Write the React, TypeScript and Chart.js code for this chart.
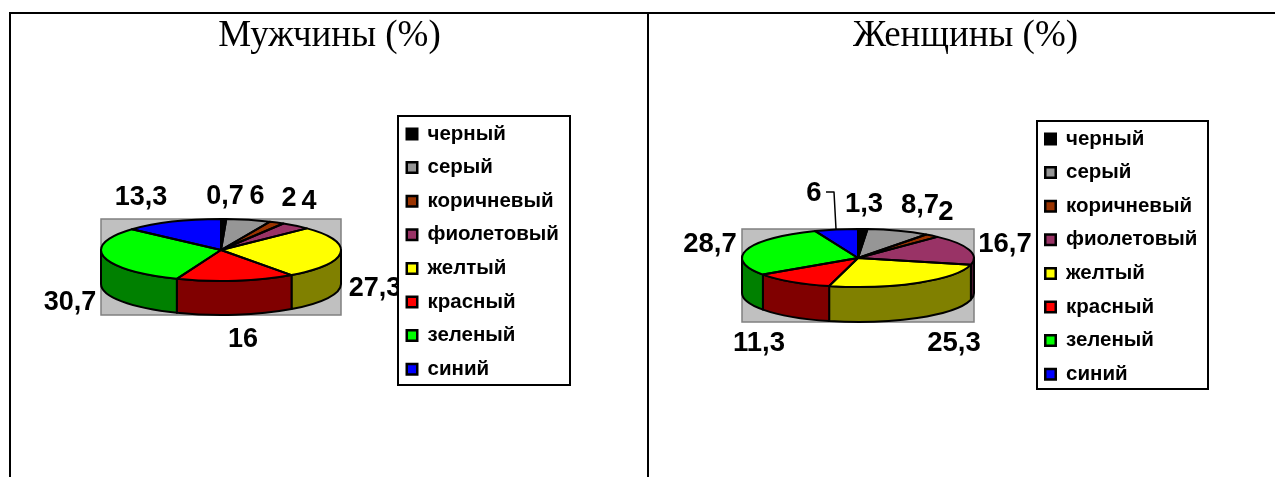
import React, { useEffect, useRef } from "react";
import { Chart, registerables } from "chart.js";

Chart.register(...registerables);

const categories = ["черный", "серый", "коричневый", "фиолетовый", "желтый", "красный", "зеленый", "синий"];
const menValues = [0.7, 6, 2, 4, 27.3, 16, 30.7, 13.3];
const womenValues = [1.3, 8.7, 2, 16.7, 25.3, 11.3, 28.7, 6];
const menLabels = ["0,7", "6", "2", "4", "27,3", "16", "30,7", "13,3"];
const womenLabels = ["1,3", "8,7", "2", "16,7", "25,3", "11,3", "28,7", "6"];
const sliceColors = ["#000000", "#969696", "#993300", "#993366", "#FFFF00", "#FF0000", "#00FF00", "#0000FF"];
const wallColors = ["#000000", "#4B4B4B", "#4C1900", "#4C1933", "#808000", "#800000", "#008000", "#000080"];

type Panel = {
  title: string;
  values: number[];
  labels: string[];
  left: number;
  width: number;
  cx: number;
  cy: number;
  r: number;
  ry: number;
  depth: number;
  legendBox: number[];
  swatchX: number;
  firstRowY: number;
  labelAt: number[][];
  labelSize: number;
  leader?: number[][];
  titleX: number;
};

const TOP = 14;
const HEIGHT = 463;
const TITLE_Y = 36;
const TITLE_SIZE = 37;
const LEGEND_SIZE = 20.5;

const panels: Panel[] = [
  {
    title: "Мужчины (%)",
    values: menValues,
    labels: menLabels,
    left: 11,
    width: 636,
    cx: 221,
    cy: 250,
    r: 120,
    ry: 31,
    depth: 34,
    legendBox: [398, 116, 172, 269],
    swatchX: 406.75,
    firstRowY: 134,
    labelAt: [[225, 197], [257, 197], [289, 199], [309, 202], [375, 289], [243, 340], [70, 303], [141, 198]],
    labelSize: 27,
    titleX: 329.5,
  },
  {
    title: "Женщины (%)",
    values: womenValues,
    labels: womenLabels,
    left: 649,
    width: 626,
    cx: 858,
    cy: 258,
    r: 116,
    ry: 29,
    depth: 35,
    legendBox: [1037, 121, 171, 268],
    swatchX: 1045.25,
    firstRowY: 139,
    labelAt: [[864, 204], [920, 205], [946, 212], [1005, 244], [954, 343], [759, 343], [710, 244], [814, 193]],
    labelSize: 27.5,
    leader: [[826, 192], [834, 192], [836, 229]],
    titleX: 965.5,
  },
];

function piePlugin(p: Panel) {
  const ox = p.left;
  const k = p.ry / p.r;
  return {
    id: "pie3d",
    afterLayout(chart: any) {
      const lg = chart.legend;
      const [bx, , bw] = p.legendBox;
      const pad = chart.options.plugins.legend.labels.padding;
      lg.left = p.swatchX - ox - pad;
      lg.right = bx + bw - ox + 10;
      lg.width = lg.right - lg.left;
      lg.top = p.firstRowY - TOP - LEGEND_SIZE / 2 - pad;
      lg.bottom = HEIGHT;
      lg.height = lg.bottom - lg.top;
      const tt = chart.titleBlock;
      const tOpts = chart.options.plugins.title;
      tt.left = p.titleX - ox - 200;
      tt.right = p.titleX - ox + 200;
      tt.width = 400;
      tt.top = TITLE_Y - TOP - (TITLE_SIZE * 1.15) / 2 - tOpts.padding.top;
    },
    beforeDraw(chart: any) {
      const ctx = chart.ctx;
      const [bx, by, bw, bh] = p.legendBox;
      ctx.save();
      ctx.fillStyle = "#FFFFFF";
      ctx.strokeStyle = "#000000";
      ctx.lineWidth = 2;
      ctx.fillRect(bx - ox, by - TOP, bw, bh);
      ctx.strokeRect(bx - ox, by - TOP, bw, bh);
      ctx.restore();
    },
    beforeDatasetsDraw(chart: any) {
      const ctx = chart.ctx;
      const arcs = chart.getDatasetMeta(0).data;
      const { x, y, outerRadius: r } = arcs[0];
      const ry = r * k;
      const d = p.depth;
      ctx.save();
      ctx.fillStyle = "#C0C0C0";
      ctx.strokeStyle = "#808080";
      ctx.lineWidth = 1.5;
      ctx.fillRect(x - r, y - ry, 2 * r, 2 * ry + d);
      ctx.strokeRect(x - r, y - ry, 2 * r, 2 * ry + d);
      ctx.lineWidth = 2;
      ctx.strokeStyle = "#000000";
      ctx.lineJoin = "round";
      arcs.forEach((a: any, i: number) => {
        const s = Math.max(a.startAngle, 0);
        const e = Math.min(a.endAngle, Math.PI);
        if (e <= s) return;
        ctx.beginPath();
        ctx.ellipse(x, y, r, ry, 0, s, e);
        ctx.lineTo(x + r * Math.cos(e), y + ry * Math.sin(e) + d);
        ctx.ellipse(x, y + d, r, ry, 0, e, s, true);
        ctx.closePath();
        ctx.fillStyle = wallColors[i];
        ctx.fill();
        ctx.stroke();
      });
      ctx.restore();
      ctx.save();
      ctx.translate(x, y);
      ctx.scale(1, k);
      ctx.translate(-x, -y);
    },
    afterDatasetsDraw(chart: any) {
      const ctx = chart.ctx;
      ctx.restore();
      const arcs = chart.getDatasetMeta(0).data;
      const { x, y, outerRadius: r } = arcs[0];
      const ry = r * k;
      ctx.save();
      ctx.strokeStyle = "#000000";
      ctx.lineWidth = 2;
      ctx.lineJoin = "round";
      arcs.forEach((a: any) => {
        ctx.beginPath();
        ctx.moveTo(x, y);
        ctx.ellipse(x, y, r, ry, 0, a.startAngle, a.endAngle);
        ctx.closePath();
        ctx.stroke();
      });
      ctx.beginPath();
      ctx.rect(0, 0, p.legendBox[0] - ox - 1, HEIGHT);
      ctx.clip();
      ctx.fillStyle = "#000000";
      ctx.font = `bold ${p.labelSize}px "Liberation Sans", Arial, sans-serif`;
      ctx.textAlign = "center";
      ctx.textBaseline = "middle";
      p.labels.forEach((t, i) => {
        ctx.fillText(t, p.labelAt[i][0] - ox, p.labelAt[i][1] - TOP);
      });
      if (p.leader) {
        ctx.lineWidth = 1.5;
        ctx.beginPath();
        p.leader.forEach(([lx, ly], i) => {
          if (i === 0) ctx.moveTo(lx - ox, ly - TOP);
          else ctx.lineTo(lx - ox, ly - TOP);
        });
        ctx.stroke();
      }
      ctx.restore();
    },
  };
}

function PieChart({ p }: { p: Panel }) {
  const ref = useRef<HTMLCanvasElement>(null);
  useEffect(() => {
    if (!ref.current) return;
    const titleH = 60;
    const chart = new Chart(ref.current, {
      type: "pie",
      data: {
        labels: categories,
        datasets: [{ data: p.values, backgroundColor: sliceColors, borderWidth: 0 }],
      },
      options: {
        responsive: false,
        animation: false,
        events: [],
        layout: {
          padding: {
            left: p.cx - p.r - p.left,
            right: p.left + p.width - (p.cx + p.r),
            top: p.cy - p.r - TOP - titleH,
            bottom: TOP + HEIGHT - (p.cy + p.r),
          },
        },
        plugins: {
          tooltip: { enabled: false },
          title: {
            display: true,
            text: p.title,
            color: "#000000",
            align: "center",
            font: { family: '"Liberation Serif", "Times New Roman", serif', size: TITLE_SIZE, weight: "normal", lineHeight: 1.15 },
            padding: { top: 1, bottom: titleH - 1 - TITLE_SIZE * 1.15 },
          },
          legend: {
            display: true,
            position: "chartArea",
            align: "start",
            maxHeight: 440,
            maxWidth: 300,
            labels: {
              color: "#000000",
              boxWidth: 10.5,
              boxHeight: 10.5,
              padding: 13.1,
              font: { family: '"Liberation Sans", Arial, sans-serif', size: LEGEND_SIZE, weight: "bold", lineHeight: 1.2 },
              generateLabels: () =>
                categories.map((c, i) => ({
                  text: c,
                  fillStyle: sliceColors[i],
                  strokeStyle: "#000000",
                  lineWidth: 2.5,
                  fontColor: "#000000",
                  index: i,
                })),
            },
          },
        },
      },
      plugins: [piePlugin(p)],
    } as any);
    return () => chart.destroy();
  }, [p]);
  return (
    <canvas
      ref={ref}
      width={p.width}
      height={HEIGHT}
      style={{ position: "absolute", left: p.left, top: TOP, width: p.width, height: HEIGHT, display: "block" }}
    />
  );
}

const rule = (left: number, top: number, width: number, height: number) => (
  <div style={{ position: "absolute", left, top, width, height, background: "#000" }} />
);

export default function App() {
  return (
    <div style={{ position: "relative", width: 1259, height: 461 }}>
      <div style={{ position: "fixed", left: 0, top: 0, width: 1275, height: 477, overflow: "hidden", background: "#fff" }}>
        {panels.map((p) => (
          <PieChart key={p.title} p={p} />
        ))}
        {rule(9, 12, 1266, 2)}
        {rule(9, 12, 2, 465)}
        {rule(647, 12, 2, 465)}
      </div>
    </div>
  );
}
